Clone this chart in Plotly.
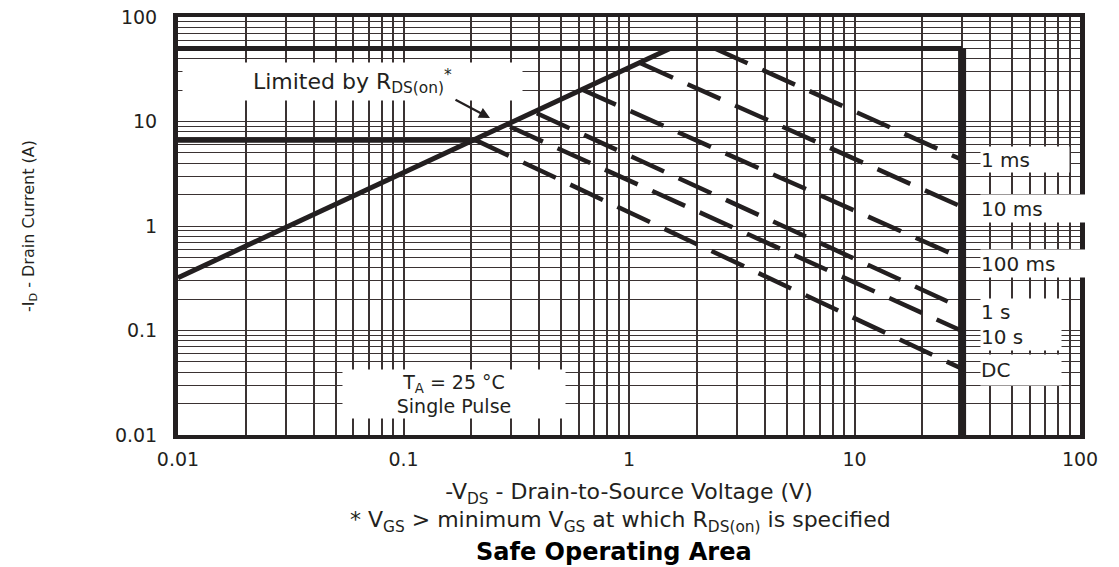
import numpy as np
import plotly.graph_objects as go

# ---------------- data ----------------
x_tick_labels = ["0.01", "0.1", "1", "10", "100"]
y_tick_labels = ["0.01", "0.1", "1", "10", "100"]
x_decades = [0.01, 0.1, 1, 10, 100]
y_decades = [0.01, 0.1, 1, 10, 100]

# R_DS(on) limit line
rds_v = [0.01, 1.52]
rds_i = [0.32, 50]

# pulsed current limit
ipulse_v = [0.01, 30]
ipulse_i = [50, 50]

# continuous current limit
icont_v = [0.01, 0.21]
icont_i = [6.6, 6.6]

# V_DS max limit
vmax_v = [30, 30]
vmax_i = [50, 0.01]

# pulse-width limited lines
pulse_labels = ["1 ms", "10 ms", "100 ms", "1 s", "10 s", "DC"]
pulse_start_v = [2.4, 1.12, 0.625, 0.39, 0.297, 0.21]
pulse_start_i = [50, 36.3, 20.0, 12.0, 8.9, 6.6]
pulse_end_v = [30, 30, 30, 30, 30, 30]
pulse_end_i = [4.3, 1.52, 0.49, 0.164, 0.099, 0.043]

# ---------------- styling ----------------
INK = "#231f20"
GRID = "#3a3232"
FONT = "DejaVu Sans"
W, H = 1119, 567
OFF = 8                      # page body margin of the html page
PL, PR, PT, PB = 178, 1080, 17, 435   # plot area in window pixels
L, T = PL - OFF, PT - OFF
R, B = W + OFF - PR, H + OFF - PB
PW, PH = PR - PL, PB - PT


def px_to_paper(px, py):
    return (px - PL) / PW, (PB - py) / PH


def grid_vals(decades):
    vals = []
    for d in decades[:-1]:
        vals += [d * k for k in range(1, 10)]
    vals.append(decades[-1])
    return vals


def grid_text(decades, labels):
    out = []
    for v in grid_vals(decades):
        lab = ""
        for d, t in zip(decades, labels):
            if abs(v - d) < 1e-9 * d:
                lab = t
        out.append(lab)
    return out


fig = go.Figure()

solid = dict(color=INK, width=5)
fig.add_trace(go.Scatter(x=rds_v, y=rds_i, mode="lines", line=solid, showlegend=False, hoverinfo="skip"))
fig.add_trace(go.Scatter(x=ipulse_v, y=ipulse_i, mode="lines", line=solid, showlegend=False, hoverinfo="skip"))
fig.add_trace(go.Scatter(x=icont_v, y=icont_i, mode="lines", line=solid, showlegend=False, hoverinfo="skip"))
fig.add_trace(go.Scatter(x=vmax_v, y=vmax_i, mode="lines", line=dict(color=INK, width=8),
                         showlegend=False, hoverinfo="skip"))

for name, x0, y0, x1, y1 in zip(pulse_labels, pulse_start_v, pulse_start_i, pulse_end_v, pulse_end_i):
    fig.add_trace(go.Scatter(x=[x0, x1], y=[y0, y1], mode="lines", name=name,
                             line=dict(color=INK, width=4.5, dash="36px,16px"),
                             showlegend=False, hoverinfo="skip"))

annotations = []

# Limited by R_DS(on) box
ax_, ay_ = px_to_paper(352, 81.5)
annotations.append(dict(xref="paper", yref="paper", x=ax_, y=ay_, xanchor="center", yanchor="middle",
                        text="Limited by R<sub>DS(on)</sub><sup>*</sup>",
                        showarrow=False, bgcolor="white", width=339, height=37, borderpad=0,
                        font=dict(family=FONT, size=22, color=INK)))
# arrow
hx, hy = px_to_paper(490, 118)
annotations.append(dict(xref="paper", yref="paper", x=hx, y=hy, text="",
                        showarrow=True, arrowhead=2, arrowsize=1.0, arrowwidth=2.2,
                        arrowcolor=INK, ax=-36, ay=-19))

# T_A box
tx, ty = px_to_paper(454, 394)
annotations.append(dict(xref="paper", yref="paper", x=tx, y=ty, xanchor="center", yanchor="middle",
                        text="T<sub>A</sub> = 25 °C<br>Single Pulse",
                        showarrow=False, bgcolor="white", width=222, height=48, borderpad=0,
                        font=dict(family=FONT, size=19, color=INK)))

# right-side pulse labels
label_widths = [88, 106, 106, 80, 80, 80]
label_heights = [25, 27, 27, 25, 26, 30]
label_shift = [0, -1, -5, -3, -6, -1]
lx, _ = px_to_paper(980, 0)
for name, yv, wd, ht, sh in zip(pulse_labels, pulse_end_i, label_widths, label_heights, label_shift):
    annotations.append(dict(xref="paper", yref="y", x=lx, y=np.log10(yv), yshift=sh,
                            xanchor="left", yanchor="middle", text=name, align="left",
                            showarrow=False, bgcolor="white", width=wd, height=ht, borderpad=0,
                            font=dict(family=FONT, size=20, color=INK)))

# footnote and caption
fx, fy = px_to_paper(620, 521)
annotations.append(dict(xref="paper", yref="paper", x=fx, y=fy, xanchor="center", yanchor="middle",
                        text="* V<sub>GS</sub> &gt; minimum V<sub>GS</sub> at which R<sub>DS(on)</sub> is specified",
                        showarrow=False, font=dict(family=FONT, size=22, color=INK)))
cx, cy = px_to_paper(614, 552)
annotations.append(dict(xref="paper", yref="paper", x=cx, y=cy, xanchor="center", yanchor="middle",
                        text="<b>Safe Operating Area</b>",
                        showarrow=False, font=dict(family=FONT, size=24, color="#000000")))

fig.update_layout(
    width=W, height=H,
    margin=dict(l=L, r=R, t=T, b=B, autoexpand=False),
    paper_bgcolor="white", plot_bgcolor="white",
    font=dict(family=FONT, color=INK),
    annotations=annotations,
    xaxis=dict(type="log", range=[np.log10(x_decades[0]), np.log10(x_decades[-1])],
               tickmode="array", tickvals=grid_vals(x_decades), ticktext=grid_text(x_decades, x_tick_labels),
               showgrid=True, gridcolor=GRID, gridwidth=1.8, zeroline=False,
               showline=True, linecolor=INK, linewidth=4, mirror=True, ticks="",
               ticklabelstandoff=4, automargin=False, ticklabeloverflow="allow",
               tickfont=dict(family=FONT, size=19, color=INK),
               title=dict(text="-V<sub>DS</sub> - Drain-to-Source Voltage (V)", standoff=16,
                          font=dict(family=FONT, size=22, color=INK))),
    yaxis=dict(type="log", range=[np.log10(y_decades[0]), np.log10(y_decades[-1])],
               tickmode="array", tickvals=grid_vals(y_decades), ticktext=grid_text(y_decades, y_tick_labels),
               showgrid=True, gridcolor=GRID, gridwidth=1.2, zeroline=False,
               showline=True, linecolor=INK, linewidth=5, mirror=True, ticks="",
               ticklabelstandoff=12, automargin=False, ticklabeloverflow="allow",
               tickfont=dict(family=FONT, size=19, color=INK),
               title=dict(text="-I<sub>D</sub> - Drain Current (A)", standoff=78,
                          font=dict(family=FONT, size=16, color=INK))),
)

fig.write_html("out.html")
